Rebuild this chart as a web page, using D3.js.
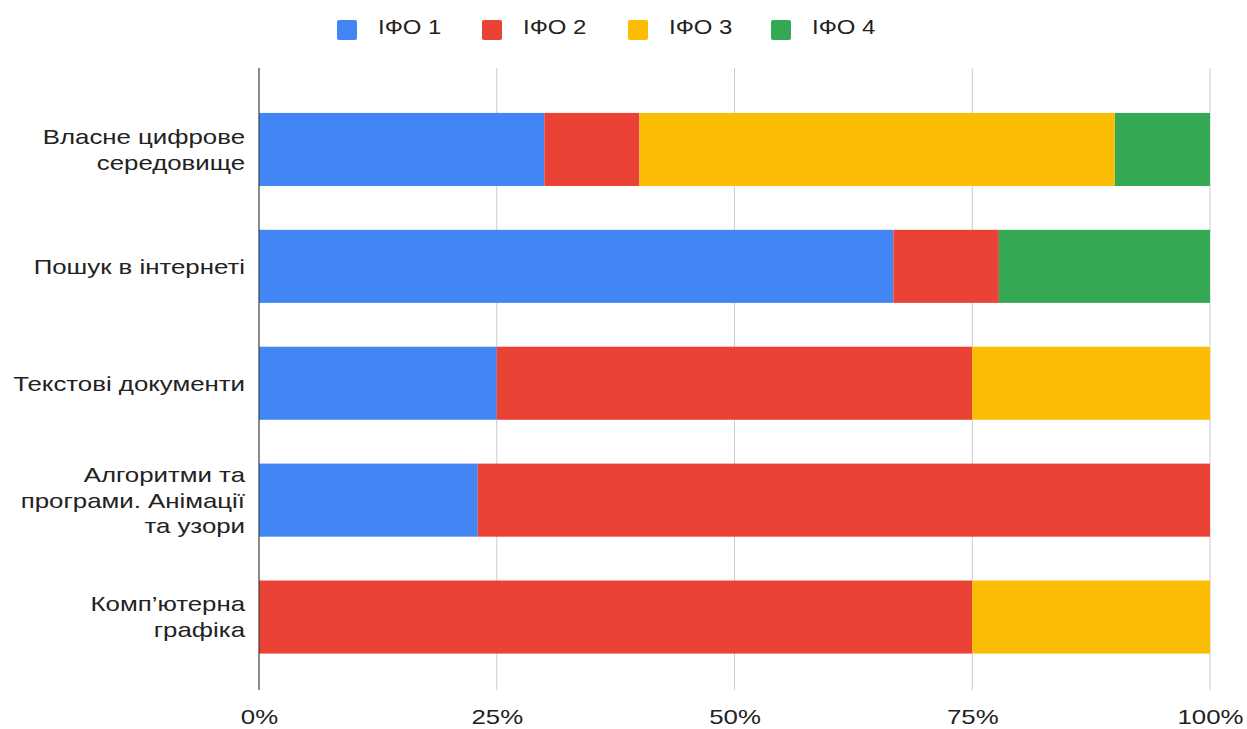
<html>

<head>
    <meta charset="utf-8">
    <script src="https://d3js.org/d3.v7.min.js"></script>
</head>

<body style="margin:0;background:white">
    <svg></svg>
    <script>
        // categories and shares (percent)
        const categories = [
            "Власне цифрове середовище",
            "Пошук в інтернеті",
            "Текстові документи",
            "Алгоритми та програми. Анімації та узори",
            "Комп'ютерна графіка"
        ]
        // label lines as they wrap in the picture
        const labelLines = [
            ["Власне цифрове", "середовище"],
            ["Пошук в інтернеті"],
            ["Текстові документи"],
            ["Алгоритми та", "програми. Анімації", "та узори"],
            ["Комп’ютерна", "графіка"]
        ]
        const seriesNames = ["ІФО 1", "ІФО 2", "ІФО 3", "ІФО 4"]
        const ifo1 = [30, 66.7, 25, 23, 0]
        const ifo2 = [10, 11.1, 50, 77, 75]
        const ifo3 = [50, 0, 25, 0, 25]
        const ifo4 = [10, 22.2, 0, 0, 0]
        const xTickValues = [0, 0.25, 0.5, 0.75, 1]
        const colors = ["#4285F4", "#EA4335", "#FBBC04", "#34A853"]

        const width = 1247
        const height = 729
        const marginLeft = 259
        const marginRight = 37
        const plotTop = 68
        const plotBottom = 690
        const font = "'Liberation Sans', Arial, sans-serif"
        const fontSize = 21
        const stretch = 1.23 // the text in the picture is a bit wide
        const legendStretch = 1.14

        const svg = d3.select("svg")
            .attr("width", width)
            .attr("height", height)
            .attr("viewBox", [0, 0, width, height])
            .style("font-family", font)

        // build normalised rows for the stack
        const rows = categories.map((c, i) => {
            const vals = [ifo1[i], ifo2[i], ifo3[i], ifo4[i]]
            const total = d3.sum(vals)
            const r = { category: c }
            seriesNames.forEach((s, j) => r[s] = vals[j] / total)
            return r
        })
        const stacked = d3.stack().keys(seriesNames)(rows)

        const xScale = d3.scaleLinear([0, 1], [marginLeft, width - marginRight])
        const yScale = d3.scaleBand(categories, [91, 675.5])
            .paddingInner(0.375)
            .paddingOuter(0.1875)
        const color = d3.scaleOrdinal(seriesNames, colors)

        // vertical grid lines
        svg.append("g")
            .selectAll("line")
            .data(xTickValues)
            .join("line")
            .attr("x1", d => xScale(d))
            .attr("x2", d => xScale(d))
            .attr("y1", plotTop)
            .attr("y2", plotBottom)
            .attr("stroke", "#cccccc")
            .attr("stroke-width", 1)

        // bars
        svg.append("g")
            .selectAll("g")
            .data(stacked)
            .join("g")
            .attr("fill", d => color(d.key))
            .selectAll("rect")
            .data(d => d)
            .join("rect")
            .attr("x", d => xScale(d[0]))
            .attr("y", d => yScale(d.data.category))
            .attr("width", d => xScale(d[1]) - xScale(d[0]))
            .attr("height", yScale.bandwidth())

        // baseline at 0
        svg.append("line")
            .attr("x1", xScale(0))
            .attr("x2", xScale(0))
            .attr("y1", plotTop)
            .attr("y2", plotBottom)
            .attr("stroke", "#333333")
            .attr("stroke-width", 1)

        // x axis labels
        const xAxis = d3.axisBottom(xScale)
            .tickValues(xTickValues)
            .tickFormat(d3.format(".0%"))
            .tickSize(0)
            .tickPadding(0)
        svg.append("g")
            .attr("transform", `translate(0,${plotBottom + 19})`)
            .call(xAxis)
            .call(g => g.select(".domain").remove())
            .call(g => g.selectAll("text")
                .attr("font-size", fontSize)
                .attr("font-family", font)
                .attr("fill", "#222")
                .attr("transform", `scale(${stretch},1)`))

        // y axis labels (wrapped)
        const lineH = 26
        svg.append("g")
            .selectAll("g")
            .data(categories)
            .join("g")
            .attr("transform", c => `translate(245,${yScale(c) + yScale.bandwidth() / 2}) scale(${stretch},1)`)
            .append("text")
            .attr("text-anchor", "end")
            .attr("font-size", fontSize)
            .attr("fill", "#222")
            .each(function (c, i) {
                const lines = labelLines[i]
                const y0 = -(lines.length - 1) * lineH / 2
                d3.select(this).selectAll("tspan")
                    .data(lines)
                    .join("tspan")
                    .attr("x", 0)
                    .attr("y", (d, k) => y0 + k * lineH)
                    .attr("dy", "0.35em")
                    .text(d => d)
            })

        // legend
        const legendX = [337, 482, 628, 771]
        const legend = svg.append("g")
            .selectAll("g")
            .data(seriesNames)
            .join("g")
            .attr("transform", (d, i) => `translate(${legendX[i]},30)`)
        legend.append("rect")
            .attr("x", 0)
            .attr("y", -10)
            .attr("width", 20)
            .attr("height", 20)
            .attr("rx", 2)
            .attr("fill", d => color(d))
        legend.append("text")
            .attr("transform", `translate(41,-3) scale(${legendStretch},1)`)
            .attr("dy", "0.35em")
            .attr("font-size", fontSize)
            .attr("fill", "#222")
            .text(d => d)
    </script>
</body>

</html>
